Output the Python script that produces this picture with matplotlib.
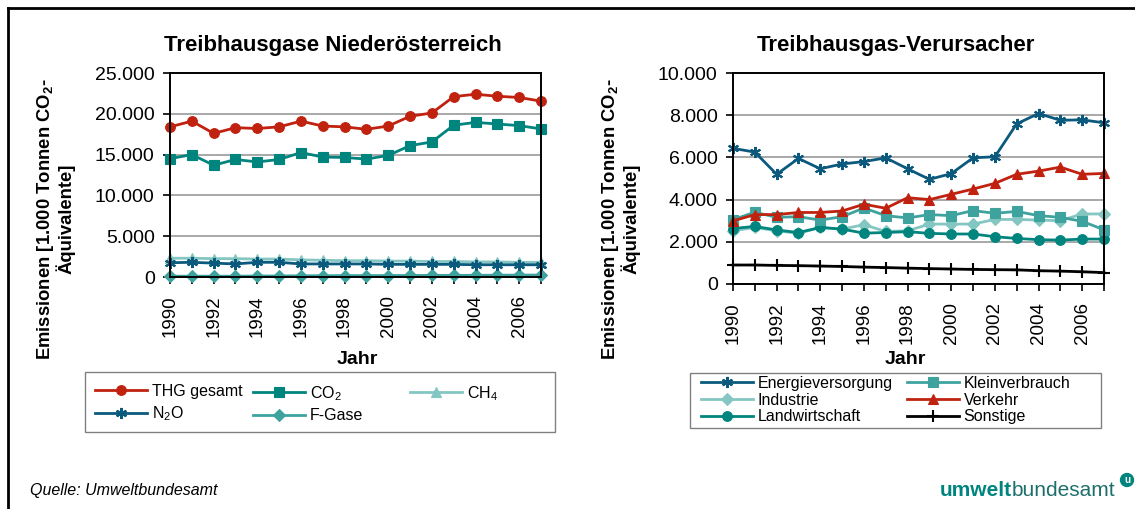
import matplotlib
matplotlib.use('Agg')
import matplotlib.pyplot as plt
from matplotlib.lines import Line2D
from matplotlib.patches import Rectangle
from matplotlib.ticker import FuncFormatter, MultipleLocator

plt.rcParams['font.family'] = ['Liberation Sans', 'DejaVu Sans']
plt.rcParams['mathtext.default'] = 'regular'

years = list(range(1990, 2008))

# Treibhausgase Niederösterreich (1.000 t CO2-Äquivalente)
thg_gesamt = [18400, 19100, 17600, 18300, 18200, 18400, 19100, 18500, 18400,
              18100, 18500, 19700, 20100, 22100, 22400, 22150, 22000, 21550]
co2 = [14500, 15000, 13700, 14400, 14100, 14400, 15250, 14700, 14650,
       14450, 14900, 16100, 16550, 18600, 18950, 18750, 18550, 18150]
ch4 = [2300, 2300, 2250, 2250, 2200, 2200, 2100, 2050, 2000,
       2000, 1950, 1950, 1900, 1900, 1850, 1850, 1800, 1800]
n2o = [1750, 1800, 1700, 1600, 1800, 1800, 1600, 1600, 1600,
       1600, 1550, 1550, 1550, 1550, 1500, 1500, 1500, 1500]
f_gase = [100, 100, 100, 100, 120, 130, 150, 160, 170,
          170, 180, 190, 200, 200, 210, 220, 230, 240]

# Treibhausgas-Verursacher
energie = [6430, 6250, 5200, 5950, 5460, 5690, 5800, 5980, 5460,
           4960, 5230, 5980, 6030, 7590, 8080, 7760, 7780, 7640]
klein = [3050, 3400, 3160, 3190, 3030, 3190, 3600, 3240, 3130,
         3290, 3240, 3480, 3350, 3440, 3240, 3160, 2970, 2570]
industrie = [2520, 2680, 2520, 2400, 2680, 2600, 2810, 2490, 2520,
             2840, 2840, 2840, 3060, 3060, 3030, 3000, 3320, 3320]
verkehr = [2990, 3290, 3290, 3390, 3390, 3460, 3780, 3590, 4090,
           4000, 4250, 4500, 4770, 5200, 5350, 5540, 5200, 5240]
landwirtschaft = [2630, 2730, 2560, 2440, 2680, 2600, 2410, 2440, 2480,
                  2400, 2370, 2370, 2240, 2160, 2100, 2080, 2130, 2130]
sonstige = [900, 900, 880, 870, 850, 830, 800, 780, 750,
            730, 710, 690, 680, 670, 630, 610, 580, 540]

RED = '#c0220f'
TEAL = '#00857e'
TEAL_MID = '#3ea39e'
TEAL_LIGHT = '#84c6c2'
BLUE = '#0b5a7e'

W, H = 1135, 509
fig = plt.figure(figsize=(W / 100, H / 100), dpi=100)


def px(x, y):
    return x / W, 1 - y / H


def de_fmt(v, pos):
    return f'{int(round(v)):,}'.replace(',', '.')


def style_axes(ax, ymax, ystep):
    ax.set_xlim(1990, 2007)
    ax.set_ylim(0, ymax)
    ax.yaxis.set_major_locator(MultipleLocator(ystep))
    ax.yaxis.set_major_formatter(FuncFormatter(de_fmt))
    ax.xaxis.set_major_locator(MultipleLocator(2))
    ax.xaxis.set_minor_locator(MultipleLocator(1))
    ax.grid(axis='y', color='#9a9a9a', linewidth=1.2)
    ax.set_axisbelow(True)
    for s in ax.spines.values():
        s.set_linewidth(1.4)
        s.set_color('black')
    ax.tick_params(axis='both', which='both', direction='out', length=5,
                   width=1.2, labelsize=14)
    ax.tick_params(axis='x', which='major', labelrotation=90, pad=8,
                   labelsize=13.5)
    ax.tick_params(axis='y', pad=6)


def series(ax, y, color, marker, label, ms=7):
    ax.plot(years, y, color=color, marker=marker, markersize=ms, linewidth=2,
            markeredgewidth=1.5 if marker in ('x', '+', (6, 2, 0)) else 0.8,
            markeredgecolor=color, label=label, clip_on=False)


def column_legend(handles, labels, x, y, spacing):
    leg = fig.legend(handles, labels, loc='upper left', bbox_to_anchor=px(x, y),
                     frameon=False, fontsize=11.5, handlelength=3.25,
                     handletextpad=0.3, borderpad=0, borderaxespad=0,
                     labelspacing=spacing)
    return leg


# left chart
l0, b0 = px(170, 277)
l1, b1 = px(541, 73)
ax1 = fig.add_axes([l0, b0, l1 - l0, b1 - b0])
style_axes(ax1, 25000, 5000)
series(ax1, f_gase, TEAL_MID, 'D', 'F-Gase', ms=6)
series(ax1, ch4, TEAL_LIGHT, '^', 'CH$_4$')
series(ax1, n2o, BLUE, (6, 2, 0), 'N$_2$O', ms=8)
series(ax1, co2, TEAL, 's', 'CO$_2$')
series(ax1, thg_gesamt, RED, 'o', 'THG gesamt')

# right chart
r0, c0 = px(733, 284)
r1, c1 = px(1104, 73)
ax2 = fig.add_axes([r0, c0, r1 - r0, c1 - c0])
style_axes(ax2, 10000, 2000)
series(ax2, sonstige, 'black', '+', 'Sonstige', ms=8)
series(ax2, industrie, TEAL_LIGHT, 'D', 'Industrie', ms=6)
series(ax2, landwirtschaft, TEAL, 'o', 'Landwirtschaft')
series(ax2, klein, TEAL_MID, 's', 'Kleinverbrauch')
series(ax2, verkehr, RED, '^', 'Verkehr')
series(ax2, energie, BLUE, (6, 2, 0), 'Energieversorgung', ms=8)

# titles and axis labels
fig.text(*px(333, 45), 'Treibhausgase Niederösterreich', ha='center', va='center',
         fontsize=16, fontweight='bold')
fig.text(*px(896, 45), 'Treibhausgas-Verursacher', ha='center', va='center',
         fontsize=16, fontweight='bold')
ylab = 'Emissionen [1.000 Tonnen CO$_2$-\nÄquivalente]'
fig.text(*px(55, 219), ylab, ha='center', va='center', rotation=90,
         fontsize=13.3, fontweight='bold', linespacing=1.0)
fig.text(*px(620, 219), ylab, ha='center', va='center', rotation=90,
         fontsize=13.3, fontweight='bold', linespacing=1.0)
fig.text(*px(357, 359), 'Jahr', ha='center', va='center', fontsize=14, fontweight='bold')
fig.text(*px(905, 359), 'Jahr', ha='center', va='center', fontsize=14, fontweight='bold')

# legends, one frameless legend per column plus a box
hd1 = dict(zip(*ax1.get_legend_handles_labels()[::-1]))
columns1 = [(95, ['THG gesamt', 'N$_2$O']),
            (253, ['CO$_2$', 'F-Gase']),
            (410, ['CH$_4$'])]
for x, labs in columns1:
    column_legend([hd1[k] for k in labs], labs, x, 384, 0.35)
fig.add_artist(Rectangle(px(85, 432), 470 / W, 60 / H, transform=fig.transFigure,
                         fill=False, edgecolor='#808080', linewidth=1.0))

hd2 = dict(zip(*ax2.get_legend_handles_labels()[::-1]))
columns2 = [(701, ['Energieversorgung', 'Industrie', 'Landwirtschaft']),
            (907, ['Kleinverbrauch', 'Verkehr', 'Sonstige'])]
for x, labs in columns2:
    column_legend([hd2[k] for k in labs], labs, x, 376, 0.1)
fig.add_artist(Rectangle(px(690, 428), 411 / W, 55 / H, transform=fig.transFigure,
                         fill=False, edgecolor='#808080', linewidth=1.0))

# footer
fig.text(*px(30, 490), 'Quelle: Umweltbundesamt', ha='left', va='center',
         fontsize=11.5, style='italic')
t1 = fig.text(*px(940, 491), 'umwelt', ha='left', va='center', fontsize=15,
              fontweight='bold', color='#00857e')
fig.canvas.draw()
bb = t1.get_window_extent()
fig.text(bb.x1 / W, 1 - 491 / H, 'bundesamt', fontsize=15, color='#1d6f6b',
         ha='left', va='center')
fig.text(*px(1127, 480), 'u', ha='center', va='center', fontsize=7,
         fontweight='bold', color='white',
         bbox=dict(boxstyle='circle,pad=0.15', fc='#00857e', ec='#00857e'))

# outer frame
fig.add_artist(Line2D([8 / W, 8 / W], [0, 1 - 8 / H], color='black', linewidth=2,
                      transform=fig.transFigure))
fig.add_artist(Line2D([8 / W, 1], [1 - 8 / H, 1 - 8 / H], color='black', linewidth=2,
                      transform=fig.transFigure))

fig.savefig('out.png', dpi=100)
